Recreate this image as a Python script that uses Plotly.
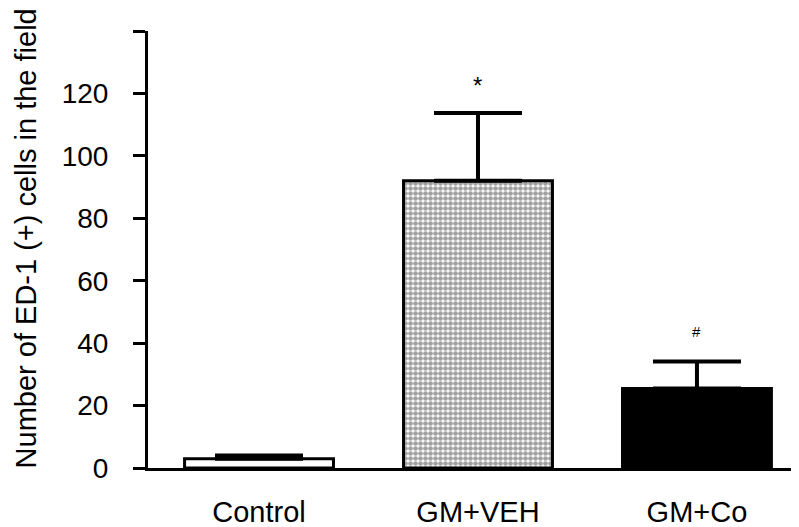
import plotly.graph_objects as go

categories = ["Control", "GM+VEH", "GM+Co"]
means = [3.0, 92.0, 25.5]
sem = [1.0, 21.7, 8.6]
marks = ["", "*", "#"]
y_ticks = [0, 20, 40, 60, 80, 100, 120, 140]
y_ticktext = ["0", "20", "40", "60", "80", "100", "120", ""]
y_title = "Number of ED-1 (+) cells in the field"

FONT = "Liberation Sans, Arial, sans-serif"
fill_colors = ["white", "white", "black"]
pattern_shapes = ["", ".", ""]
mark_sizes = [16, 24, 15]
mark_shifts = [14, 12, 20]

fig = go.Figure()
fig.add_trace(go.Bar(
    x=list(range(len(categories))),
    y=means,
    width=0.68,
    marker=dict(
        color=fill_colors,
        line=dict(color="black", width=3),
        pattern=dict(shape=pattern_shapes, size=5, solidity=0.7,
                     fgcolor="black", bgcolor="white", fillmode="overlay"),
    ),
    error_y=dict(type="data", array=sem, arrayminus=[0] * len(sem),
                 symmetric=False, color="black", thickness=4, width=44),
    showlegend=False,
))

for i, (m, s, t, fs, sh) in enumerate(zip(means, sem, marks, mark_sizes, mark_shifts)):
    if t:
        fig.add_annotation(x=i, y=m + s, text=t, showarrow=False,
                           yanchor="bottom", yshift=sh,
                           font=dict(family=FONT, size=fs, color="black"))

fig.add_annotation(xref="paper", yref="paper", x=-0.187, y=0.526,
                   text=y_title, textangle=-90, showarrow=False,
                   xanchor="center", yanchor="middle",
                   font=dict(family=FONT, size=29, color="black"))

# page body has an 8px margin, so the figure is offset by 8px right and down
fig.update_layout(
    width=799, height=527,
    margin=dict(l=140, r=8, t=23, b=67),
    paper_bgcolor="white", plot_bgcolor="white",
    font=dict(family=FONT, color="black"),
)
fig.update_xaxes(
    range=[-0.507, 2.466], automargin=False,
    tickmode="array", tickvals=list(range(len(categories))), ticktext=categories,
    showline=True, linecolor="black", linewidth=3,
    ticks="", showgrid=False, zeroline=False,
    tickfont=dict(family=FONT, size=29, color="black"),
    ticklabelstandoff=16,
)
fig.update_yaxes(
    range=[0, 140], automargin=False,
    tickmode="array", tickvals=y_ticks, ticktext=y_ticktext,
    showline=True, linecolor="black", linewidth=3,
    ticks="outside", ticklen=12, tickwidth=3, tickcolor="black",
    showgrid=False, zeroline=False,
    tickfont=dict(family=FONT, size=28, color="black"),
    ticklabelstandoff=19,
)

fig.write_html("out.html")
